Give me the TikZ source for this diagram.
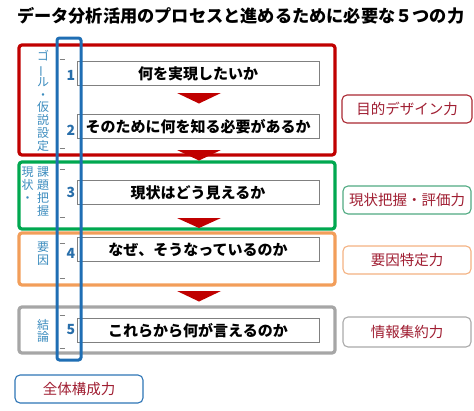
\documentclass[tikz,border=0pt]{standalone}
\usepackage{fontspec}
\usepackage{graphicx}
\setmainfont{Noto Sans CJK JP}
\definecolor{secred}{RGB}{192,0,0}
\definecolor{secgreen}{RGB}{0,168,80}
\definecolor{secorange}{RGB}{242,158,90}
\definecolor{secgray}{RGB}{166,166,166}
\definecolor{bandblue}{RGB}{31,110,180}
\definecolor{numblue}{RGB}{40,110,170}
\definecolor{labblue}{RGB}{60,140,190}
\definecolor{skilltxt}{RGB}{160,30,50}
\definecolor{skred}{RGB}{170,40,50}
\definecolor{skgreen}{RGB}{80,170,130}
\definecolor{skorange}{RGB}{244,178,130}
\definecolor{skgray}{RGB}{170,170,170}
\definecolor{skblue}{RGB}{46,117,182}
\definecolor{arrowred}{RGB}{192,0,0}
\begin{document}
\begin{tikzpicture}[x=1pt,y=-1pt,
  sect/.style={line width=3.2pt, rounded corners=3pt, minimum width=316pt, inner sep=0pt, outer sep=0pt},
  stepbox/.style={draw=gray, fill=white, line width=0.8pt, minimum width=242pt, minimum height=24pt, inner sep=0pt, font=\bfseries\fontsize{15}{15}\selectfont},
  skill/.style={draw, fill=white, rounded corners=5pt, line width=1.1pt, minimum width=128pt, minimum height=28pt, inner sep=0pt, text=skilltxt, font=\fontsize{14.5}{15}\selectfont},
  num/.style={text=numblue, inner sep=0pt, font=\bfseries\fontsize{14}{14}\selectfont},
  vlab/.style={text=labblue, align=center, inner sep=0pt, font=\fontsize{12}{12.75}\selectfont},
  tick/.style={draw=gray, line width=0.6pt},
  tri/.style={fill=arrowred}]
\useasboundingbox (0,0) rectangle (474,410);

% title
\node[anchor=west, inner sep=0pt, font=\bfseries\fontsize{17.2}{17.2}\selectfont] (title) at (17,16) {データ分析活用のプロセスと進めるために必要な５つの力};

% section frames
\node[sect, draw=secred, minimum height=110pt] (s1) at (177,100) {};
\node[sect, draw=secgreen, minimum height=67pt] (s2) at (177,195.5) {};
\node[sect, draw=secorange, minimum height=52pt] (s3) at (177,259) {};
\node[sect, draw=secgray, minimum height=46pt] (s4) at (177,330) {};

% step boxes
\node[stepbox] (b1) at (198,73.5) {何を実現したいか};
\node[stepbox] (b2) at (198,126.5) {そのために何を知る必要があるか};
\node[stepbox] (b3) at (198,192.5) {現状はどう見えるか};
\node[stepbox] (b4) at (198,249.5) {なぜ、そうなっているのか};
\node[stepbox] (b5) at (198,330.5) {これらから何が言えるのか};

% red down triangles
\fill[tri] (177,93) -- (221,93) -- (199,103.5) -- cycle;
\fill[tri] (177,150) -- (221,150) -- (199,160.5) -- cycle;
\fill[tri] (177,218) -- (221,218) -- (199,228) -- cycle;
\fill[tri] (177,291) -- (221,291) -- (199,301.5) -- cycle;

% blue band
\node[draw=bandblue, line width=3pt, rounded corners=2.5pt, minimum width=24pt, minimum height=322pt, inner sep=0pt] (band) at (69,199) {};

% ticks
\foreach \yy in {59,148,169,217,243,278,315,348}
  \draw[tick] (59.5,\yy) -- (64.5,\yy);

% numbers
\node[num] (n1) at (71,75) {1};
\node[num] (n2) at (71,130) {2};
\node[num] (n3) at (71,192) {3};
\node[num] (n4) at (71,253) {4};
\node[num] (n5) at (71,330) {5};

% vertical labels
\node[vlab] (l1) at (43,101) {ゴ\\\rotatebox[origin=c]{90}{ー}\\ル\\・\\仮\\説\\設\\定};
\node[vlab, anchor=north] (l2a) at (43,167) {課\\題\\把\\握};
\node[vlab, anchor=north] (l2b) at (27.5,167) {現\\状\\・};
\node[vlab] (l3) at (43,254) {要\\因};
\node[vlab] (l4) at (43,331) {結\\論};

% skill boxes
\node[skill, draw=skred, minimum width=130pt] (k1) at (407,109) {目的デザイン力};
\node[skill, draw=skgreen] (k2) at (407,200) {現状把握・評価力};
\node[skill, draw=skorange] (k3) at (407,260) {要因特定力};
\node[skill, draw=skgray, minimum height=30pt] (k4) at (407,332) {情報集約力};
\node[skill, draw=skblue] (k5) at (79,389) {全体構成力};
\end{tikzpicture}
\end{document}
